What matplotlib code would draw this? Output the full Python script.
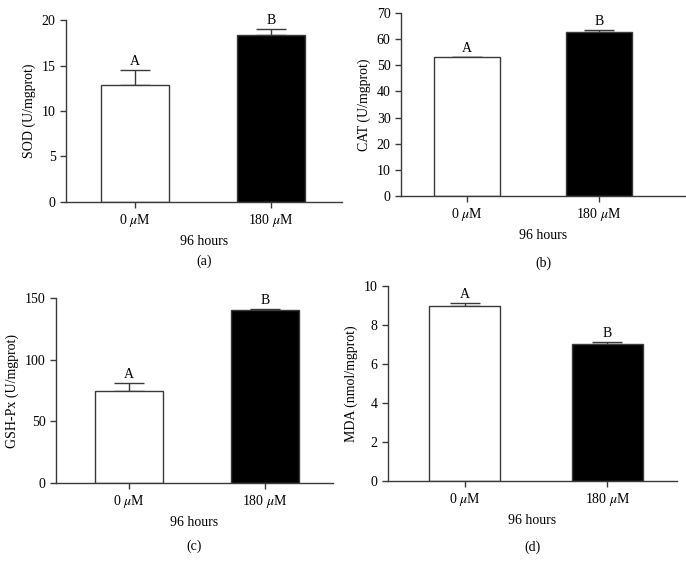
import matplotlib
matplotlib.use('Agg')
import matplotlib.pyplot as plt
import numpy as np

plt.rcParams['font.family'] = ['Liberation Serif', 'DejaVu Serif']
plt.rcParams['mathtext.fontset'] = 'stix'

groups = ['0 $\\mu$M', '180 $\\mu$M']
sod = [12.9, 18.4]
sod_err = [1.6, 0.6]
cat = [53.0, 62.7]
cat_err = [0.3, 0.8]
gsh = [75.0, 140.0]
gsh_err = [6.0, 1.0]
mda = [9.0, 7.05]
mda_err = [0.13, 0.1]
letters = ['A', 'B']

panels = [
    # values, errors, ylabel, ylim, yticks, axes rect, xlim, tag, tag offset
    (sod, sod_err, 'SOD (U/mgprot)', 20, np.arange(0, 21, 5),
     [0.0962, 0.6469, 0.4023, 0.3181], (-0.507, 1.52), '(a)', -53),
    (cat, cat_err, 'CAT (U/mgprot)', 70, np.arange(0, 71, 10),
     [0.5845, 0.6573, 0.4140, 0.3200], (-0.5, 1.65), '(b)', -60),
    (gsh, gsh_err, 'GSH-Px (U/mgprot)', 150, np.arange(0, 151, 50),
     [0.0816, 0.1556, 0.4038, 0.3234], (-0.54, 1.5), '(c)', -57),
    (mda, mda_err, 'MDA (nmol/mgprot)', 10, np.arange(0, 11, 2),
     [0.5656, 0.1590, 0.4213, 0.3409], (-0.54, 1.49), '(d)', -59),
]

fig = plt.figure(figsize=(6.86, 5.72), dpi=100)
x = np.arange(len(groups))
fs = 10

for vals, errs, ylab, ytop, yt, rect, xl, tag, toff in panels:
    ax = fig.add_axes(rect)
    ax.bar(x, vals, width=0.5, color=['white', 'black'],
           edgecolor='#3a3a3a', linewidth=1.0, zorder=2)
    ax.errorbar(x, vals, yerr=[[0, 0], errs], fmt='none', ecolor='#3a3a3a',
                elinewidth=1.0, capsize=11, capthick=1.0, zorder=1)
    for xi, v, e, t in zip(x, vals, errs, letters):
        ax.annotate(t, (xi, v + e), xytext=(0, 1.5), textcoords='offset points',
                    ha='center', va='bottom', fontsize=fs)
    ax.set_ylim(0, ytop)
    ax.set_yticks(yt)
    ax.set_xlim(*xl)
    ax.set_xticks(x)
    ax.set_xticklabels(groups)
    ax.set_ylabel(ylab, fontsize=fs)
    ax.set_xlabel('96 hours', fontsize=fs, labelpad=4)
    ax.spines['top'].set_visible(False)
    ax.spines['right'].set_visible(False)
    for s in ['left', 'bottom']:
        ax.spines[s].set_color('#3a3a3a')
        ax.spines[s].set_linewidth(1.0)
    ax.tick_params(direction='out', length=4, width=1.0, color='#3a3a3a',
                   labelsize=fs)
    ax.annotate(tag, (0.5, 0), xycoords='axes fraction', xytext=(0, toff),
                textcoords='offset pixels', ha='center', va='top', fontsize=fs)

plt.savefig('out.png', dpi=100)
